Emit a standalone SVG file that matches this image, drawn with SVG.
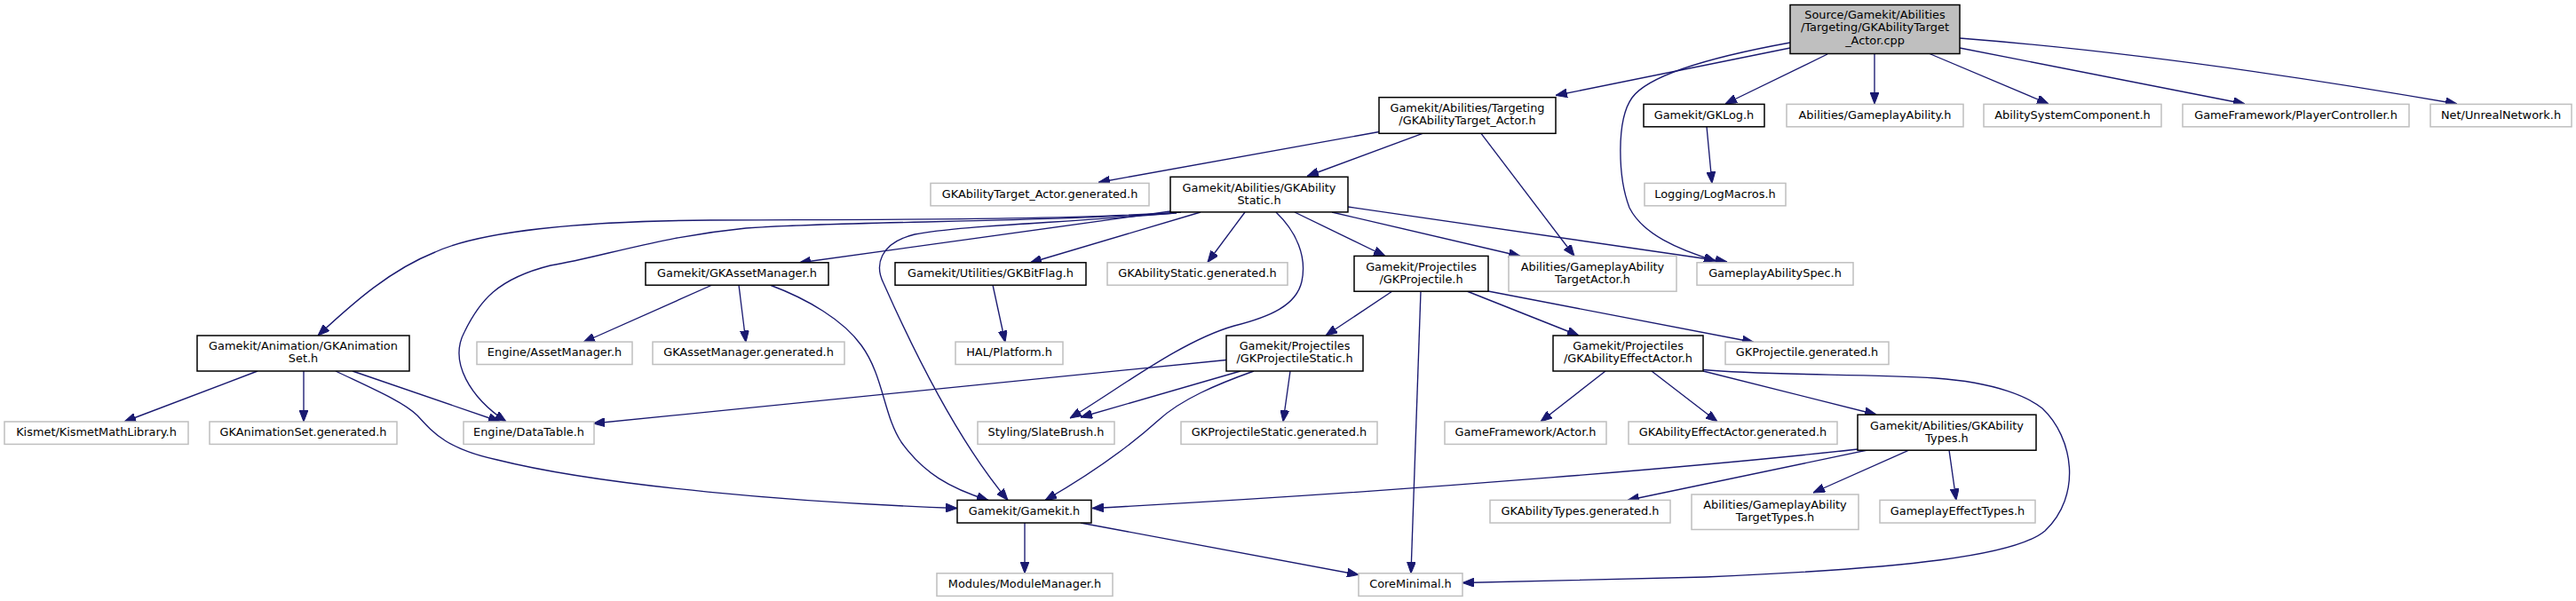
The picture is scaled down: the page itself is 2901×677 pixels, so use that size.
<svg xmlns="http://www.w3.org/2000/svg" width="2901" height="677" viewBox="0 0 2901 677">
<style>
  .bg{fill:#ffffff}
  .doc rect{fill:#ffffff;stroke:#000000;stroke-width:1.5}
  .und rect{fill:#ffffff;stroke:#bfbfbf;stroke-width:1.5}
  .root rect{fill:#bfbfbf;stroke:#000000;stroke-width:1.5}
  text{font-family:"DejaVu Sans","Liberation Sans",sans-serif;font-size:12.9px;fill:#000000;text-anchor:middle}
  #edges path{fill:none;stroke:#191970;stroke-width:1.35;marker-end:url(#arr)}
</style>
<defs>
  <marker id="arr" viewBox="0 0 13 10" refX="13" refY="5" markerWidth="13" markerHeight="10" markerUnits="userSpaceOnUse" orient="auto">
    <path d="M0,0 L13,5 L0,10 z" fill="#191970" stroke="#191970" stroke-width="1"/>
  </marker>
</defs>
<rect class="bg" x="0" y="0" width="2901" height="677"/>
<g id="edges">
  <path d="M2016,54 L1752,107.5"/>
  <path d="M2016,48 C1950,60 1860,80 1838,110 C1820,135 1822,200 1835,234 C1850,264 1890,281 1932,294"/>
  <path d="M2058,61 L1943,117"/>
  <path d="M2111,60.5 L2111,117"/>
  <path d="M2173,60.5 L2307,117"/>
  <path d="M2207,54 L2528,117"/>
  <path d="M2207,43 C2400,58 2600,88 2767,117"/>
  <path d="M1922,142.7 L1928,206.5"/>
  <path d="M1553,148.5 L1237,205.5"/>
  <path d="M1602,150.3 L1472,198.5"/>
  <path d="M1668,150.3 L1773,288.5"/>
  <path d="M1330,239 C1200,248 1000,247 800,248 C650,249 540,261 490,284 C440,304 400,339 358,378"/>
  <path d="M1325,240 C1150,251 950,249 840,257 C740,267 680,289 620,299 C560,314 540,339 523,374 C505,408 530,448 570,475"/>
  <path d="M1318,238 L900,296"/>
  <path d="M1322,240 C1200,251 1080,254 1030,264 C990,274 985,299 995,319 C1030,398 1080,498 1135,563.5"/>
  <path d="M1352,239 L1160,296"/>
  <path d="M1402,239 L1360,295.5"/>
  <path d="M1437,239 C1460,261 1472,289 1466,317 C1460,344 1430,357 1390,367 C1330,384 1260,438 1205,471"/>
  <path d="M1458,239 L1560,288.5"/>
  <path d="M1500,239 L1712,288.5"/>
  <path d="M1518,233 L1945,295"/>
  <path d="M802,321 L657,385.5"/>
  <path d="M832,321 L840,385.5"/>
  <path d="M867,321 C910,337 950,361 970,389 C995,423 995,468 1015,498 C1040,533 1070,550 1113,563.5"/>
  <path d="M1118,321 L1132,385.5"/>
  <path d="M290,418 L140,475"/>
  <path d="M342,418 L342,475"/>
  <path d="M397,418 L563,475"/>
  <path d="M378,418 C420,438 455,453 470,468 C490,490 505,506 560,518 C680,548 900,566 1078,572.5"/>
  <path d="M1381,405.5 L668,477"/>
  <path d="M1397,418 L1217,470"/>
  <path d="M1412,418 C1370,433 1330,450 1305,473 C1275,500 1230,533 1177,563.5"/>
  <path d="M1453,418 L1445,475"/>
  <path d="M1568,328 L1493,378"/>
  <path d="M1600,328 L1589,645.8"/>
  <path d="M1652,328 L1778,378"/>
  <path d="M1676,328 L1975,385.5"/>
  <path d="M1808,418 L1735,475"/>
  <path d="M1860,418 L1934,475"/>
  <path d="M1918,418 L2113,467"/>
  <path d="M1918,416.5 C1990,423 2100,421 2180,426 C2250,431 2285,448 2300,460 C2335,493 2345,558 2303,598 C2270,626 2150,640 1920,650 L1647,656.5"/>
  <path d="M2092,506 C1950,522 1600,553 1230,572.5"/>
  <path d="M2103,507 L1833,563.5"/>
  <path d="M2150,507 L2042,555"/>
  <path d="M2195,507 L2203,563.5"/>
  <path d="M1154,589 L1154,645.8"/>
  <path d="M1217,589 L1530,647.5"/>
</g>
<g id="node_root" class="root"><rect x="2016" y="5.5" width="191" height="55"/><text x="2111.5" y="20.8">Source/Gamekit/Abilities</text><text x="2111.5" y="35.4">/Targeting/GKAbilityTarget</text><text x="2111.5" y="50">_Actor.cpp</text></g>
<g id="node_targetactor" class="doc"><rect x="1553" y="109.7" width="199" height="40.6"/><text x="1652.5" y="126.3">Gamekit/Abilities/Targeting</text><text x="1652.5" y="140.3">/GKAbilityTarget_Actor.h</text></g>
<g id="node_gklog" class="doc"><rect x="1851" y="117.4" width="136" height="25.4"/><text x="1919" y="133.7">Gamekit/GKLog.h</text></g>
<g id="node_gameplayability" class="und"><rect x="2012" y="117.4" width="199" height="25.4"/><text x="2111.5" y="133.7">Abilities/GameplayAbility.h</text></g>
<g id="node_asc" class="und"><rect x="2234" y="117.4" width="200" height="25.4"/><text x="2334" y="133.7">AbilitySystemComponent.h</text></g>
<g id="node_playercontroller" class="und"><rect x="2458" y="117.4" width="255" height="25.4"/><text x="2585.5" y="133.7">GameFramework/PlayerController.h</text></g>
<g id="node_unrealnetwork" class="und"><rect x="2737" y="117.4" width="159" height="25.4"/><text x="2816.5" y="133.7">Net/UnrealNetwork.h</text></g>
<g id="node_targetactor_gen" class="und"><rect x="1048" y="206.4" width="246" height="25.4"/><text x="1171" y="222.7">GKAbilityTarget_Actor.generated.h</text></g>
<g id="node_abilitystatic" class="doc"><rect x="1318" y="199.3" width="200" height="39.6"/><text x="1418" y="215.7">Gamekit/Abilities/GKAbility</text><text x="1418" y="229.5">Static.h</text></g>
<g id="node_logmacros" class="und"><rect x="1852" y="206.4" width="159" height="25.4"/><text x="1931.5" y="222.7">Logging/LogMacros.h</text></g>
<g id="node_animset" class="doc"><rect x="222" y="378" width="239" height="40"/><text x="341.5" y="394.4">Gamekit/Animation/GKAnimation</text><text x="341.5" y="408.3">Set.h</text></g>
<g id="node_assetmanager" class="doc"><rect x="727" y="295.8" width="206" height="25.4"/><text x="830" y="312.1">Gamekit/GKAssetManager.h</text></g>
<g id="node_bitflag" class="doc"><rect x="1008" y="295.8" width="215" height="25.4"/><text x="1115.5" y="312.1">Gamekit/Utilities/GKBitFlag.h</text></g>
<g id="node_abilitystatic_gen" class="und"><rect x="1247" y="295.8" width="203" height="25.4"/><text x="1348.5" y="312.1">GKAbilityStatic.generated.h</text></g>
<g id="node_projectile" class="doc"><rect x="1525" y="288.4" width="151" height="39.8"/><text x="1600.5" y="304.8">Gamekit/Projectiles</text><text x="1600.5" y="318.7">/GKProjectile.h</text></g>
<g id="node_gatargetactor" class="und"><rect x="1699" y="288.4" width="189" height="39.8"/><text x="1793.5" y="304.8">Abilities/GameplayAbility</text><text x="1793.5" y="318.7">TargetActor.h</text></g>
<g id="node_abilityspec" class="und"><rect x="1911" y="295.8" width="176" height="25.4"/><text x="1999" y="312.1">GameplayAbilitySpec.h</text></g>
<g id="node_kismet" class="und"><rect x="5" y="475" width="207" height="25.4"/><text x="108.5" y="491.3">Kismet/KismetMathLibrary.h</text></g>
<g id="node_animset_gen" class="und"><rect x="236" y="475" width="211" height="25.4"/><text x="341.5" y="491.3">GKAnimationSet.generated.h</text></g>
<g id="node_datatable" class="und"><rect x="522" y="475" width="147" height="25.4"/><text x="595.5" y="491.3">Engine/DataTable.h</text></g>
<g id="node_engine_assetmanager" class="und"><rect x="537" y="385.1" width="175" height="25.4"/><text x="624.5" y="401.4">Engine/AssetManager.h</text></g>
<g id="node_assetmanager_gen" class="und"><rect x="735" y="385.1" width="216" height="25.4"/><text x="843" y="401.4">GKAssetManager.generated.h</text></g>
<g id="node_platform" class="und"><rect x="1076" y="385.1" width="121" height="25.4"/><text x="1136.5" y="401.4">HAL/Platform.h</text></g>
<g id="node_projectilestatic" class="doc"><rect x="1381" y="378" width="154" height="40"/><text x="1458" y="394.4">Gamekit/Projectiles</text><text x="1458" y="408.3">/GKProjectileStatic.h</text></g>
<g id="node_projectile_gen" class="und"><rect x="1943" y="385.1" width="184" height="25.4"/><text x="2035" y="401.4">GKProjectile.generated.h</text></g>
<g id="node_effectactor" class="doc"><rect x="1749" y="378" width="169" height="40"/><text x="1833.5" y="394.4">Gamekit/Projectiles</text><text x="1833.5" y="408.3">/GKAbilityEffectActor.h</text></g>
<g id="node_slatebrush" class="und"><rect x="1101" y="475" width="154" height="25.4"/><text x="1178" y="491.3">Styling/SlateBrush.h</text></g>
<g id="node_projectilestatic_gen" class="und"><rect x="1330" y="475" width="221" height="25.4"/><text x="1440.5" y="491.3">GKProjectileStatic.generated.h</text></g>
<g id="node_actor" class="und"><rect x="1627" y="475" width="182" height="25.4"/><text x="1718" y="491.3">GameFramework/Actor.h</text></g>
<g id="node_effectactor_gen" class="und"><rect x="1834" y="475" width="235" height="25.4"/><text x="1951.5" y="491.3">GKAbilityEffectActor.generated.h</text></g>
<g id="node_abilitytypes" class="doc"><rect x="2092" y="467.2" width="201" height="40"/><text x="2192.5" y="483.6">Gamekit/Abilities/GKAbility</text><text x="2192.5" y="497.5">Types.h</text></g>
<g id="node_gamekit" class="doc"><rect x="1078" y="563.4" width="151" height="25.6"/><text x="1153.5" y="579.5">Gamekit/Gamekit.h</text></g>
<g id="node_abilitytypes_gen" class="und"><rect x="1678" y="563.4" width="203" height="25.6"/><text x="1779.5" y="579.5">GKAbilityTypes.generated.h</text></g>
<g id="node_gatargettypes" class="und"><rect x="1905" y="557" width="188" height="39.5"/><text x="1999" y="573.3">Abilities/GameplayAbility</text><text x="1999" y="587.1">TargetTypes.h</text></g>
<g id="node_effecttypes" class="und"><rect x="2117" y="563.4" width="175" height="25.6"/><text x="2204.5" y="579.5">GameplayEffectTypes.h</text></g>
<g id="node_modulemanager" class="und"><rect x="1055" y="645.8" width="198" height="25.6"/><text x="1154" y="662">Modules/ModuleManager.h</text></g>
<g id="node_coreminimal" class="und"><rect x="1530" y="645.8" width="117" height="25.6"/><text x="1588.5" y="662">CoreMinimal.h</text></g>
</svg>
